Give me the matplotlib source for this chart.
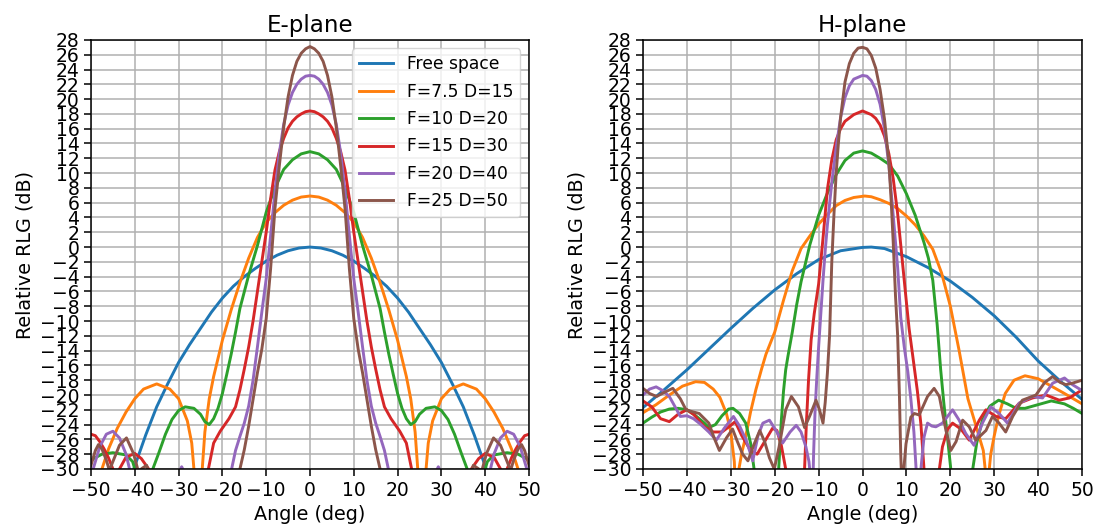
import numpy as np
import matplotlib.pyplot as plt

labels = ["Free space", "F=7.5 D=15", "F=10 D=20", "F=15 D=30", "F=20 D=40", "F=25 D=50"]
colors = ["#1f77b4", "#ff7f0e", "#2ca02c", "#d62728", "#9467bd", "#8c564b"]

# E-plane patterns are symmetric, so only angles >= 0 are stored
e_free_ang = [0, 2.5, 5, 7.5, 10, 12.5, 15, 17.5, 20, 22.5, 25, 27.5, 30, 32.5, 35, 37.5, 40, 42.5, 45, 50]
e_free_db = [0, -0.13, -0.5, -1.1, -1.9, -2.9, -4.0, -5.3, -6.9, -8.8, -11.0, -13.2, -15.6, -18.5, -21.6, -25.4, -29.6, -34, -38, -45]

e_f75_ang = [0, 2, 4, 6, 8, 10, 12, 14, 16, 18, 20, 22, 23, 24, 24.6, 25.2, 25.8, 26.5, 27, 28, 30, 32, 35, 38, 40, 42, 44, 46, 47.5, 48.5, 50]
e_f75_db = [6.9, 6.76, 6.34, 5.65, 4.65, 3.35, 1.3, -1.5, -4.8, -8.5, -12.6, -17.5, -20.5, -25, -30, -40, -38, -30, -26.5, -23.5,
            -20.5, -19.2, -18.5, -19.2, -20.5, -22.3, -24.5, -27.3, -30, -34, -40]

e_f10_ang = [0, 2, 4, 6, 8, 10, 12, 14, 16, 17, 18, 19, 20, 21, 22, 23, 24, 25, 26.5, 28.5, 30, 31.5, 33, 34.5, 36.2,
             37.5, 38.5, 39.5, 40.5, 42, 45, 47.5, 50]
e_f10_db = [12.9, 12.6, 11.8, 10.5, 8.0, 4.7, 0.2, -3.8, -8.3, -11.5, -14.5, -17.2, -19.8, -21.8, -23.2, -24.0, -23.6,
            -22.6, -21.8, -21.6, -22.1, -23.3, -25.3, -27.8, -30.5, -34, -34, -31, -29, -28.1, -27.8, -28, -28.8]

e_f15_ang = [0, 1, 2, 3, 4, 5, 6, 7, 8, 9, 10, 11, 12, 13, 14, 15, 16, 17, 18.5, 20.5, 22, 23.2, 24, 28, 33, 35.5, 36.6,
             38.5, 40, 42, 43.5, 44.3, 45, 46, 47, 48, 49, 50]
e_f15_db = [18.4, 18.3, 18.0, 17.6, 17.0, 16.1, 14.7, 12.9, 10.4, 6.5, 2.0, -2.0, -6.0, -10.0, -13.5, -16.5, -19.3, -21.6, -23.2,
            -24.9, -26.5, -30, -36, -42, -40, -35, -30.2, -28.6, -27.9, -28.4, -30, -36, -30, -28.5, -27.3, -26.3, -25.5, -25.3]

e_f20_ang = [0, 1, 2, 3, 4, 5, 6, 7, 8, 9, 10, 11, 12, 13, 14, 15, 16, 17, 18, 18.7, 22, 26, 27.8, 29.3, 30.8, 33,
             37, 40, 41, 42, 43.5, 45, 46.5, 48, 49.5, 50]
e_f20_db = [23.2, 23.1, 22.7, 22.0, 20.9, 19.2, 16.6, 12.7, 7.5, 1.5, -4.3, -8.8, -13.5, -18.0, -21.5, -23.8, -25.6,
            -27.5, -30.3, -36, -40, -36, -31.5, -29.7, -31.5, -36, -40, -35, -30.5, -28, -25.8, -24.9, -25.3, -27, -30, -31]

e_f25_ang = [0, 1, 2, 3, 4, 5, 6, 7, 8, 9, 10, 11, 12, 13, 14, 15, 16, 16.5, 20, 30, 34, 36, 37.3, 38.3, 39.2, 40.3,
             41.9, 43.5, 45, 45.8, 46.5, 47.5, 48.3, 49, 50]
e_f25_db = [27.1, 26.8, 26.2, 25.1, 23.2, 20.3, 16.2, 11.0, 5.2, -3.0, -9.7, -13.8, -17.0, -20.6, -24.2, -27.4, -30,
            -34, -40, -40, -36, -32, -29.5, -29.9, -30.3, -27.9, -25.8, -26.8, -29.0, -30.2, -28.8, -27.3, -26.7, -27.5, -29.5]

# H-plane patterns, full angular range
h_free_ang = [-50, -45, -40, -35, -30, -25, -20, -15, -10, -5, 0, 2, 5, 10, 15, 20, 25, 30, 35, 40, 45, 50]
h_free_db = [-21.7, -19.2, -16.6, -13.8, -11.0, -8.3, -5.8, -3.6, -1.7, -0.5, -0.05, 0.0, -0.2, -1.3, -2.8, -4.6,
             -6.8, -9.3, -12.2, -15.4, -18.1, -20.6]

h_f75_ang = [-50, -47, -44, -41, -38, -36, -34, -32.5, -31, -30, -29.2, -28.7, -28.3, -27.5, -26.6, -25.5, -24.3, -23,
             -22, -20, -18, -16, -14, -12, -10, -8, -6, -4, -2, 0.5, 2, 4, 6, 8, 10, 12, 14, 16, 18, 20, 22, 24, 26,
             27.5, 28.1, 28.4, 28.7, 29.2, 30, 31, 32.5, 34.5, 37, 40, 43, 46, 50]
h_f75_db = [-22.4, -21.3, -20.0, -18.8, -18.2, -18.3, -19.2, -20.3, -22.5, -25.0, -29.0, -36, -30.5, -27.8, -25.6,
            -22.3, -19.3, -16.5, -14.5, -11.5, -7.2, -3.2, -0.2, 1.5, 3.1, 4.4, 5.6, 6.3, 6.7, 6.9, 6.8, 6.4, 5.9, 5.2,
            4.2, 3.0, 1.5, -0.3, -3.5, -8.0, -14.0, -20.5, -24.5, -27.5, -31, -38, -31, -28, -25.5, -22.8, -19.8,
            -18.0, -17.4, -17.8, -18.8, -19.8, -21.2]

h_f10_ang = [-50, -48, -46, -44, -42, -40, -38, -36, -35, -33.5, -32, -30.5, -29.5, -28, -26.6, -25.5, -24.7, -24.2,
             -23, -21, -19.6, -19.0, -18.5, -18, -17.5, -17, -16, -15, -14, -12, -10, -8, -6, -4, -2, 0, 2, 4, 6, 8,
             10, 12, 14, 15, 16, 17, 17.8, 18.5, 19.3, 20.1, 20.6, 22, 24, 24.6, 25.1, 26, 27.3, 29, 31, 33, 35, 37,
             40, 43, 46, 48, 50]
h_f10_db = [-23.8, -23.0, -22.3, -21.9, -21.8, -22.0, -22.8, -23.8, -24.4, -24.0, -22.8, -21.9, -21.8, -22.5, -23.8,
            -26.5, -30, -34, -40, -40, -35, -29, -23.5, -19.5, -16.6, -14.8, -11.5, -7.8, -4.7, 0.3, 4.3, 7.3, 9.8,
            11.7, 12.7, 13.0, 12.7, 12.0, 11.2, 9.6, 7.2, 4.3, 0.6, -1.5, -4.5, -10.5, -16.6, -21, -25.5, -30, -34,
            -40, -36, -33, -30, -26.5, -23.4, -21.5, -20.7, -21.2, -21.8, -21.8, -21.3, -20.8, -21.2, -21.8, -22.5]

h_f15_ang = [-50, -48, -46, -44, -42, -40, -38.5, -36, -34, -32, -30, -29, -27.5, -25.5, -24, -22.5, -20.5, -19.5,
             -18.5, -17.5, -16.8, -15, -13.6, -13.2, -12.8, -12.3, -11.7, -11, -10, -9, -8, -7, -6, -5, -4, -2, 0, 2,
             3, 4, 5, 6, 7, 8, 9, 10, 10.6, 11.5, 12.5, 13.3, 14, 14.5, 16, 17.5, 18.2, 19.4, 20.5, 22.4, 24.3, 26.6,
             28.1, 30.4, 32.6, 35.7, 38.7, 41.8, 44.8, 47.1, 50]
h_f15_db = [-20.8, -21.6, -23.2, -23.6, -22.6, -22.0, -22.6, -24.3, -25.0, -25.0, -24.1, -23.6, -25.5, -27.5, -28.0,
            -26.5, -24.5, -24.8, -26.8, -30, -35, -40, -36, -30, -24, -18, -12.5, -9, -5, 1.2, 7.8, 11.8, 14.5, 16.0,
            17.0, 17.9, 18.4, 17.9, 17.4, 16.5, 15.0, 12.6, 9.2, 4.5, -1.5, -7.5, -11, -15, -19.5, -24, -30, -36, -40,
            -30, -27, -24.6, -23.8, -24.6, -26.1, -23.4, -22.0, -22.9, -23.2, -21.1, -20.4, -20.0, -20.7, -20.4, -19.3]

h_f20_ang = [-50, -48.5, -47, -45.5, -44, -42.5, -41.5, -40, -38.5, -37, -35, -33.3, -31.5, -29.4, -28, -26.5, -25,
             -23.8, -22.7, -21.2, -19.5, -18.2, -16.5, -15.1, -14, -12.9, -12.2, -11.7, -11.45, -11.15, -10.8, -10.4,
             -10, -9.5, -9, -8.5, -8, -7, -6, -5, -4, -3, -2, 0, 1, 2, 3, 4, 5, 6, 7, 8, 8.7, 9.5, 10.3, 11, 11.7,
             12.2, 12.6, 13.0, 13.3, 14.0, 14.8, 15.8, 16.7, 18.2, 20.5, 22.0, 23.5, 25.4, 27.3, 29.2, 31.1, 33.0,
             35.7, 38.7, 41.0, 43.3, 46.0, 47.8, 50]
h_f20_db = [-20.0, -19.2, -18.9, -19.4, -20.2, -21.8, -22.9, -22.8, -23.2, -23.9, -25.0, -26.1, -24.5, -22.9, -24.2,
            -26.1, -28.9, -25.5, -23.8, -23.4, -25.0, -26.5, -25.0, -24.1, -25.0, -27.0, -29, -32, -36, -28, -22,
            -17.5, -13.5, -9, -4.5, -0.5, 3, 8.7, 13.5, 17.5, 20.2, 21.8, 22.7, 23.2, 23.1, 22.5, 21.3, 19.3, 16.0,
            11.0, 4.2, -2.8, -9.5, -13.5, -16.8, -20.5, -25, -30, -36, -33, -30, -25.7, -23.8, -24.2, -24.3, -23.8,
            -22.0, -23.4, -25.2, -26.8, -23.8, -21.6, -22.5, -23.8, -21.1, -20.2, -20.4, -18.4, -17.7, -18.6, -19.4]

h_f25_ang = [-50, -48.5, -46.9, -45, -43.2, -41.5, -40.2, -38.5, -37.2, -35, -33.8, -32.6, -31, -29.6, -28.5, -27.3,
             -26.1, -24.8, -23.4, -22.3, -21.2, -20.1, -19, -17.5, -16.2, -14.6, -13.2, -12, -10.6, -9.8, -9.0, -8.5,
             -8.0, -7.5, -7.0, -6.5, -6, -5.5, -5, -4, -3, -2, -1, 0, 1, 2, 3, 4, 5, 6, 6.5, 7, 7.5, 8, 8.4, 8.7, 9.0,
             9.4, 9.9, 11.0, 11.8, 12.9, 14.8, 16.3, 17.5, 19.0, 20.1, 21.3, 22.8, 24.3, 25.8, 28.1, 29.6, 31.1, 32.6,
             34.2, 36.4, 39.5, 41.5, 43.3, 45, 46.3, 47.8, 50]
h_f25_db = [-19.1, -19.8, -20.2, -19.6, -19.1, -20.5, -22.0, -22.3, -22.5, -23.8, -25.8, -27.5, -25.8, -24.6, -26.3,
            -28, -28.9, -26.8, -24.8, -26.3, -28.5, -30.0, -27, -22, -20.2, -21.6, -24.4, -22.8, -20.7, -22, -23.8,
            -21, -17, -11.9, -2, 4.5, 10, 14, 17.5, 22.3, 24.8, 26.2, 26.9, 27.0, 26.8, 25.9, 24.2, 21.3, 17.3, 11.5,
            6.5, 0.5, -6.5, -12, -20, -28, -33, -30, -26.6, -23.0, -22.5, -22.7, -20.2, -19.1, -20.2, -24.8, -27.5,
            -26.3, -23.4, -24.3, -26.1, -24.8, -22.9, -23.8, -25.0, -22.9, -20.7, -20.0, -18.3, -17.5, -18.3, -18.6,
            -18.4, -18.0]


def both_sides(ang, db):
    ang = np.asarray(ang, dtype=float)
    db = np.asarray(db, dtype=float)
    return np.concatenate([-ang[::-1], ang[1:]]), np.concatenate([db[::-1], db[1:]])


e_curves = [both_sides(e_free_ang, e_free_db), both_sides(e_f75_ang, e_f75_db),
            both_sides(e_f10_ang, e_f10_db), both_sides(e_f15_ang, e_f15_db),
            both_sides(e_f20_ang, e_f20_db), both_sides(e_f25_ang, e_f25_db)]
h_curves = [(h_free_ang, h_free_db), (h_f75_ang, h_f75_db), (h_f10_ang, h_f10_db),
            (h_f15_ang, h_f15_db), (h_f20_ang, h_f20_db), (h_f25_ang, h_f25_db)]

fig = plt.figure(figsize=(10.95, 5.31), dpi=100)
ax1 = fig.add_axes([0.0831, 0.1168, 0.4, 0.808])
ax2 = fig.add_axes([0.5872, 0.1168, 0.401, 0.808])

for ax, curves, title in [(ax1, e_curves, "E-plane"), (ax2, h_curves, "H-plane")]:
    for (a, d), lab, c in zip(curves, labels, colors):
        ax.plot(a, d, color=c, lw=2.1, label=lab, solid_joinstyle="round")
    ax.set_xlim(-50, 50)
    ax.set_ylim(-30, 28)
    ax.set_xticks(np.arange(-50, 51, 10))
    ax.set_yticks(np.arange(-30, 29, 2))
    ax.grid(True, color="#b0b0b0", lw=1.1)
    ax.tick_params(labelsize=13.5, width=1.1, length=4.8)
    for s in ax.spines.values():
        s.set_linewidth(1.1)
    ax.set_title(title, fontsize=16.6)
    ax.set_xlabel("Angle (deg)", fontsize=13.8)
    ax.set_ylabel("Relative RLG (dB)", fontsize=13.8)

ax1.legend(loc="upper right", fontsize=12.3, labelspacing=0.55)

fig.savefig("out.png", dpi=100)
